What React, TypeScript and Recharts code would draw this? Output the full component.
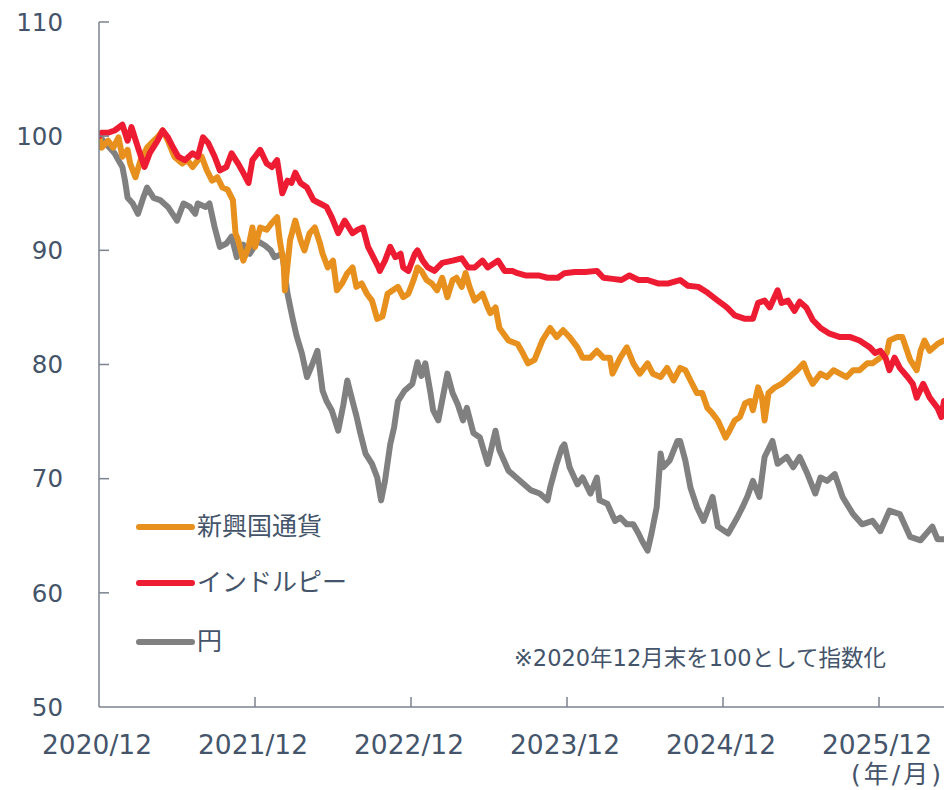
import React from "react";
import { LineChart, Line, XAxis, YAxis } from "recharts";

// Time axis: months elapsed since end of Dec 2020
const xTickMonths = [0, 12, 24, 36, 48, 60];
const xTickLabels = ["2020/12", "2021/12", "2022/12", "2023/12", "2024/12", "2025/12"];
const yTicks = [50, 60, 70, 80, 90, 100, 110];

const seriesNames = ["新興国通貨", "インドルピー", "円"];

// 円 (JPY)
const yenMonths = [
  0.0, 0.5, 0.8, 1.2, 1.5, 1.8, 2.0, 2.2, 2.6, 3.0, 3.4, 3.7, 4.2, 4.7, 5.3, 6.0, 6.5, 7.0, 7.4, 7.6,
  8.2, 8.5, 8.9, 9.3, 9.8, 10.2, 10.6, 11.1, 11.6, 12.2, 12.8, 13.2, 13.5, 14.1, 14.5, 14.9, 15.2, 15.6, 16.0, 16.4,
  16.8, 17.2, 17.5, 17.9, 18.4, 18.8, 19.1, 19.5, 19.8, 20.1, 20.5, 21.0, 21.4, 21.7, 22.0, 22.4, 22.7, 23.0, 23.5, 24.1,
  24.5, 24.8, 25.1, 25.5, 25.7, 26.1, 26.8, 27.2, 27.6, 28.0, 28.3, 28.8, 29.3, 29.9, 30.5, 30.8, 31.5, 31.9, 32.4, 33.2,
  33.9, 34.5, 34.7, 35.2, 35.6, 35.8, 36.2, 36.8, 37.2, 37.8, 38.3, 38.5, 39.1, 39.7, 40.1, 40.6, 41.1, 41.5, 41.8, 42.2,
  42.5, 42.9, 43.2, 43.4, 43.9, 44.5, 44.7, 45.1, 45.5, 46.0, 46.5, 47.2, 47.6, 48.4, 49.1, 49.5, 49.9, 50.3, 50.8, 51.2,
  51.8, 52.2, 52.9, 53.4, 53.9, 54.5, 55.1, 55.5, 56.0, 56.6, 57.2, 58.0, 58.7, 59.5, 60.1, 60.8, 61.6, 62.4, 63.2, 64.1,
  64.5, 65.0,
];
const yenValues = [
  100.0, 99.4, 99.0, 98.5, 97.9, 97.3, 96.1, 94.6, 94.1, 93.2, 94.6, 95.5, 94.6, 94.4, 93.8, 92.6, 94.1, 93.8, 93.2, 94.1,
  93.8, 94.1, 92.0, 90.3, 90.6, 91.2, 89.4, 90.5, 89.7, 90.8, 90.4, 90.0, 89.4, 89.7, 86.2, 84.0, 82.5, 81.0, 78.9, 80.0,
  81.2, 77.7, 76.8, 76.0, 74.2, 76.5, 78.6, 76.8, 75.5, 74.0, 72.2, 71.3, 70.1, 68.1, 69.8, 73.0, 74.5, 76.8, 77.7, 78.3,
  80.2, 79.0, 80.1, 77.5, 76.0, 75.1, 79.2, 77.5, 76.5, 75.1, 76.2, 74.0, 73.6, 71.3, 74.2, 72.5, 70.7, 70.3, 69.8, 69.0,
  68.7, 68.1, 69.2, 71.3, 72.7, 73.0, 71.0, 69.5, 70.1, 68.7, 70.1, 68.1, 67.8, 66.3, 66.6, 66.0, 66.0, 65.2, 64.5, 63.7,
  65.2, 67.5, 72.2, 71.0, 71.6, 73.3, 73.3, 71.6, 69.2, 67.5, 66.3, 68.4, 65.8, 65.2, 66.6, 67.5, 68.5, 69.8, 68.4, 71.9,
  73.3, 71.3, 71.9, 71.0, 71.9, 70.4, 68.7, 70.1, 69.8, 70.4, 68.4, 66.9, 66.0, 66.3, 65.4, 67.2, 66.9, 64.9, 64.6, 65.8,
  64.7, 64.7,
];

// 新興国通貨 (EM currencies)
const emMonths = [
  0.0, 0.2, 0.7, 1.1, 1.5, 1.8, 2.2, 2.4, 2.8, 3.2, 3.7, 4.2, 4.5, 4.9, 5.3, 5.8, 6.4, 6.8, 7.2, 7.6,
  7.9, 8.3, 8.7, 9.1, 9.5, 9.9, 10.3, 10.5, 10.7, 11.1, 11.5, 11.8, 12.0, 12.4, 12.9, 13.3, 13.7, 13.9, 14.2, 14.3,
  14.7, 15.1, 15.5, 15.8, 16.2, 16.6, 17.0, 17.2, 17.6, 18.0, 18.3, 18.7, 19.1, 19.5, 19.8, 20.2, 20.6, 21.0, 21.4, 21.8,
  22.2, 22.6, 23.0, 23.4, 23.8, 24.2, 24.5, 24.8, 25.2, 25.6, 26.0, 26.4, 26.8, 27.2, 27.5, 27.9, 28.2, 28.5, 28.9, 29.5,
  29.9, 30.1, 30.5, 30.8, 31.5, 32.2, 32.6, 33.0, 33.5, 34.1, 34.7, 35.2, 35.7, 36.2, 36.8, 37.2, 37.8, 38.3, 38.8, 39.3,
  39.5, 40.1, 40.6, 41.1, 41.6, 42.2, 42.6, 43.2, 43.7, 44.2, 44.7, 45.1, 45.5, 46.0, 46.4, 46.8, 47.2, 47.6, 48.2, 48.5,
  48.9, 49.3, 49.7, 50.1, 50.3, 50.7, 51.0, 51.2, 51.5, 52.0, 52.5, 53.2, 53.7, 54.2, 54.5, 54.9, 55.5, 56.0, 56.5, 57.0,
  57.5, 58.0, 58.5, 59.1, 59.5, 60.1, 60.6, 60.8, 61.4, 61.8, 62.4, 62.9, 63.2, 63.5, 63.9, 64.5, 65.0,
];
const emValues = [
  100.0, 99.0, 99.6, 99.0, 99.9, 98.2, 98.8, 97.6, 96.4, 97.9, 99.0, 99.6, 99.9, 100.5, 99.6, 98.2, 97.6, 97.9, 97.3, 97.9,
  98.2, 97.0, 96.1, 96.4, 95.5, 95.3, 94.4, 91.5, 90.9, 89.1, 90.3, 92.0, 90.3, 92.0, 91.8, 92.4, 92.9, 90.9, 88.9, 86.5,
  90.9, 92.6, 90.9, 90.0, 91.5, 92.0, 90.6, 89.7, 88.5, 89.1, 86.5, 87.1, 88.0, 88.5, 86.8, 87.1, 86.2, 85.6, 84.0, 84.2,
  86.2, 86.5, 86.8, 85.9, 86.2, 87.4, 88.5, 88.2, 87.4, 87.1, 86.5, 87.6, 85.9, 87.4, 87.6, 86.8, 88.0, 86.8, 85.6, 86.2,
  85.0, 84.5, 85.0, 83.2, 82.1, 81.8, 81.0, 80.1, 80.4, 82.1, 83.2, 82.4, 83.0, 82.4, 81.5, 80.6, 80.6, 81.2, 80.6, 80.6,
  79.2, 80.6, 81.5, 80.1, 79.2, 80.1, 79.2, 78.9, 79.7, 78.6, 79.7, 79.5, 78.6, 77.5, 77.5, 76.2, 75.7, 75.1, 73.6, 74.2,
  75.1, 75.4, 76.6, 76.8, 76.0, 78.0, 77.1, 75.1, 77.5, 78.0, 78.3, 79.0, 79.5, 80.1, 79.2, 78.3, 79.2, 78.9, 79.5, 79.2,
  78.9, 79.5, 79.5, 80.1, 80.1, 80.6, 81.0, 82.1, 82.4, 82.4, 80.4, 79.5, 81.2, 82.1, 81.2, 81.8, 82.1,
];

// インドルピー (INR)
const inrMonths = [
  0.0, 0.2, 0.7, 1.2, 1.8, 2.2, 2.5, 3.0, 3.5, 3.9, 4.5, 4.9, 5.3, 5.7, 6.1, 6.6, 7.2, 7.6, 8.0, 8.4,
  8.9, 9.3, 9.8, 10.2, 10.7, 11.0, 11.5, 11.8, 12.4, 12.9, 13.3, 13.7, 14.1, 14.5, 14.8, 15.1, 15.5, 16.0, 16.5, 17.0,
  17.5, 17.9, 18.4, 18.9, 19.5, 19.9, 20.3, 20.7, 21.1, 21.5, 21.6, 22.0, 22.4, 22.8, 23.2, 23.4, 23.8, 24.3, 24.5, 24.9,
  25.3, 25.8, 26.4, 27.2, 27.9, 28.4, 28.9, 29.5, 29.9, 30.7, 31.2, 31.8, 32.2, 32.8, 33.8, 34.5, 35.3, 35.8, 36.6, 37.4,
  38.3, 38.8, 39.5, 40.2, 40.8, 41.5, 42.2, 43.0, 43.8, 44.7, 45.3, 46.1, 46.8, 47.6, 48.3, 48.9, 49.7, 50.3, 50.7, 51.2,
  51.6, 52.2, 52.5, 53.0, 53.5, 53.9, 54.4, 54.9, 55.5, 56.2, 57.0, 57.8, 58.5, 59.3, 59.7, 60.1, 60.5, 60.8, 61.2, 61.6,
  62.2, 62.6, 62.9, 63.4, 63.9, 64.5, 64.8, 65.0,
];
const inrValues = [
  100.0, 100.3, 100.3, 100.5, 101.0, 99.6, 100.8, 99.0, 97.3, 98.5, 99.6, 100.5, 99.9, 99.0, 98.2, 97.9, 98.5, 98.2, 99.9, 99.4,
  98.2, 97.0, 97.3, 98.5, 97.6, 97.0, 95.9, 97.9, 98.8, 97.6, 97.3, 97.9, 95.0, 96.1, 95.9, 96.8, 95.9, 95.5, 94.4, 94.1,
  93.8, 92.9, 91.5, 92.6, 91.5, 91.8, 92.0, 90.3, 89.4, 88.5, 88.2, 89.1, 90.3, 89.4, 89.7, 88.5, 88.2, 89.7, 90.0, 89.1,
  88.5, 88.2, 88.9, 89.1, 89.3, 88.5, 88.5, 89.1, 88.5, 89.1, 88.2, 88.2, 88.0, 87.8, 87.8, 87.6, 87.6, 88.0, 88.1, 88.1,
  88.2, 87.6, 87.5, 87.4, 87.8, 87.4, 87.4, 87.1, 87.1, 87.4, 86.9, 86.8, 86.3, 85.6, 85.0, 84.3, 84.0, 84.0, 85.4, 85.6,
  85.0, 86.5, 85.4, 85.6, 84.7, 85.5, 85.0, 83.9, 83.2, 82.7, 82.4, 82.4, 82.1, 81.5, 81.0, 81.2, 80.6, 79.5, 80.6, 79.7,
  78.9, 78.3, 77.1, 78.3, 77.1, 76.2, 75.4, 76.8,
];

const toPoints = (months: number[], values: number[]) =>
  months.map((m, i) => ({ m, v: values[i] }));

const yenData = toPoints(yenMonths, yenValues);
const emData = toPoints(emMonths, emValues);
const inrData = toPoints(inrMonths, inrValues);

const COLORS = { em: "#E8901E", inr: "#EE1C32", yen: "#808080" };
const TEXT = "#44546A";
const AXIS = "#7A838E";
const FONT = '"DejaVu Sans", "Noto Sans CJK JP", sans-serif';

const Y_MARGIN = 37;
const X_MARGIN = 28;
const TICK_LEN = 10;

const YTick = (props: any) => {
  const { x, y, payload } = props;
  const ax = x + Y_MARGIN;
  return (
    <g>
      {payload.value !== 50 && (
        <line x1={ax} x2={ax + TICK_LEN} y1={y} y2={y} stroke={AXIS} strokeWidth={1.5} />
      )}
      <text x={x + 1} y={y} dy="0.36em" textAnchor="end" fill={TEXT} fontSize={24.5} fontFamily={FONT}>
        {payload.value}
      </text>
    </g>
  );
};

const XTick = (props: any) => {
  const { x, y, payload, index } = props;
  const ay = y - X_MARGIN;
  const label = xTickLabels[xTickMonths.indexOf(payload.value)] ?? "";
  return (
    <g>
      {index !== 0 && (
        <line x1={x} x2={x} y1={ay} y2={ay - TICK_LEN} stroke={AXIS} strokeWidth={1.5} />
      )}
      <text x={x - 2} y={y} dy="0.72em" textAnchor="middle" fill={TEXT} fontSize={26.5} fontFamily={FONT}>
        {label}
      </text>
    </g>
  );
};

const legendItems = [
  { name: seriesNames[0], color: COLORS.em, top: 527 },
  { name: seriesNames[1], color: COLORS.inr, top: 583 },
  { name: seriesNames[2], color: COLORS.yen, top: 642 },
];

export default function App() {
  return (
    <div style={{ position: "absolute", left: 0, top: 0, width: 944, height: 790, background: "#fff", fontFamily: FONT }}>
      <LineChart width={944} height={790} margin={{ top: 22, right: 0, bottom: 0, left: 0 }}>
        <XAxis
          dataKey="m"
          type="number"
          domain={[0, 65]}
          ticks={xTickMonths}
          allowDataOverflow
          height={83}
          tickLine={false}
          tickSize={0}
          tickMargin={X_MARGIN}
          tick={<XTick />}
          axisLine={{ stroke: AXIS, strokeWidth: 1.5 }}
          interval={0}
        />
        <YAxis
          type="number"
          domain={[50, 110]}
          ticks={yTicks}
          width={99}
          tickLine={false}
          tickSize={0}
          tickMargin={Y_MARGIN}
          tick={<YTick />}
          axisLine={{ stroke: AXIS, strokeWidth: 1.5 }}
          interval={0}
        />
        <Line data={yenData} dataKey="v" name={seriesNames[2]} type="linear" stroke={COLORS.yen} strokeWidth={6} dot={false} strokeLinejoin="round" strokeLinecap="round" isAnimationActive={false} />
        <Line data={emData} dataKey="v" name={seriesNames[0]} type="linear" stroke={COLORS.em} strokeWidth={6} dot={false} strokeLinejoin="round" strokeLinecap="round" isAnimationActive={false} />
        <Line data={inrData} dataKey="v" name={seriesNames[1]} type="linear" stroke={COLORS.inr} strokeWidth={6} dot={false} strokeLinejoin="round" strokeLinecap="round" isAnimationActive={false} />
      </LineChart>

      {legendItems.map((it) => (
        <div key={it.name} style={{ position: "absolute", left: 135, top: it.top - 16, height: 32, display: "flex", alignItems: "center" }}>
          <svg width={62} height={32} style={{ display: "block" }}>
            <line x1={4} x2={57} y1={16} y2={16} stroke={it.color} strokeWidth={6} strokeLinecap="round" />
          </svg>
          <span style={{ fontSize: 25, color: TEXT, fontFamily: FONT, lineHeight: "32px", whiteSpace: "nowrap" }}>{it.name}</span>
        </div>
      ))}

      <div style={{ position: "absolute", left: 514, top: 658 - 16, height: 32, lineHeight: "32px", fontSize: 22.5, color: TEXT, whiteSpace: "nowrap" }}>
        ※2020年12月末を100として指数化
      </div>
      <div style={{ position: "absolute", right: 0, top: 775 - 16, height: 32, lineHeight: "32px", fontSize: 25, letterSpacing: 3, color: TEXT, whiteSpace: "nowrap", textAlign: "right" }}>
        (年/月)
      </div>
    </div>
  );
}
